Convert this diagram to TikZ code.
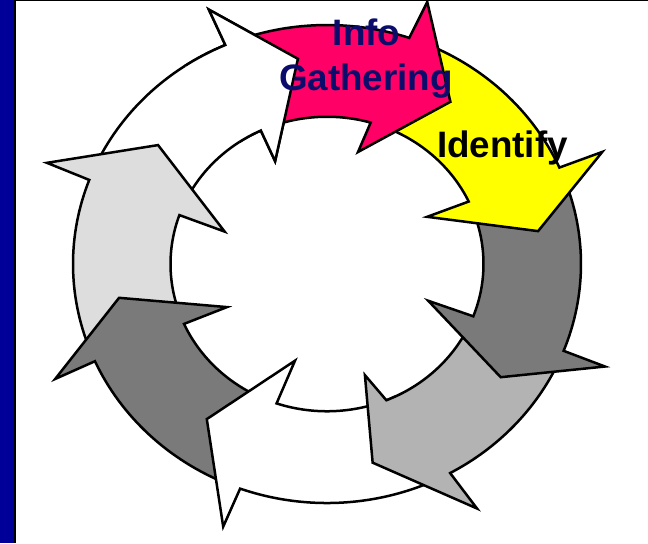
\documentclass[tikz,border=0pt]{standalone}
\usepackage{fontspec}
\setmainfont{Liberation Sans}
\definecolor{sidebar}{HTML}{000099}
\definecolor{pinkc}{HTML}{FF0066}
\definecolor{yellowc}{HTML}{FFFF00}
\definecolor{darkc}{HTML}{7A7A7A}
\definecolor{midc}{HTML}{B3B3B3}
\definecolor{lightc}{HTML}{DDDDDD}
\definecolor{navyc}{HTML}{0C0C6A}
\tikzset{
  cyclearrow/.style={draw=black, line width=1.25pt, line join=miter},
  label/.style={font=\bfseries\fontsize{18.4}{22}\selectfont, inner sep=0pt, anchor=base}
}
\begin{document}
\begin{tikzpicture}[x=0.5pt, y=0.5pt]
  \useasboundingbox (0,0) rectangle (648,-543);
  \fill[white] (0,0) rectangle (648,-543);
  % left bar and frame lines
  \fill[sidebar] (0,0) rectangle (14,-543);
  \fill[black] (14,0) rectangle (16,-543);
  \fill[black] (14,0) rectangle (648,-1.3);

  % ring of eight curved arrows, outer radius 254, inner radius 156.5
  \begin{scope}[shift={(327,-264)}, yscale=0.941]
    % white, upper left
    \path[cyclearrow, fill=white]
      (156.4:254) arc[start angle=156.4, end angle=113.6, radius=254]
      -- (113.6:295) -- (97.6:220) -- (115.4:121)
      -- (115:156.5) arc[start angle=115, end angle=156.4, radius=156.5] -- cycle;
    % light grey, left
    \path[cyclearrow, fill=lightc]
      (201:254) arc[start angle=201, end angle=159.4, radius=254]
      -- (159:300) -- (143.2:211) -- (161.4:108)
      -- (160.6:156.5) arc[start angle=160.6, end angle=201, radius=156.5] -- cycle;
    % dark grey, lower left
    \path[cyclearrow, fill=darkc]
      (247:254) arc[start angle=247, end angle=204, radius=254]
      -- (204.2:298) -- (189.8:211) -- (204.6:110)
      -- (204:156.5) arc[start angle=204, end angle=247, radius=156.5] -- cycle;
    % white, bottom
    \path[cyclearrow, fill=white]
      (296:254) arc[start angle=296, end angle=250, radius=254]
      -- (249.6:297.8) -- (233.9:204) -- (252.7:107.6)
      -- (251.2:156.5) arc[start angle=251.2, end angle=296, radius=156.5] -- cycle;
    % mid grey, lower right
    \path[cyclearrow, fill=midc]
      (335.7:254) arc[start angle=335.7, end angle=299, radius=254]
      -- (300:300) -- (282.2:216) -- (287.8:124)
      -- (292.3:156.5) arc[start angle=292.3, end angle=335.7, radius=156.5] -- cycle;
    % dark grey, right
    \path[cyclearrow, fill=darkc]
      (380.8:254) arc[start angle=380.8, end angle=338.7, radius=254]
      -- (338.6:298.6) -- (325.3:211.3) -- (338.9:108.5)
      -- (339.2:156.5) arc[start angle=339.2, end angle=380.8, radius=156.5] -- cycle;
    % yellow, upper right
    \path[cyclearrow, fill=yellowc]
      (68.1:254) arc[start angle=68.1, end angle=23.8, radius=254]
      -- (23.4:300) -- (9.4:214) -- (26.6:112)
      -- (25.1:156.5) arc[start angle=25.1, end angle=68.1, radius=156.5] -- cycle;
    % pink, top
    \path[cyclearrow, fill=pinkc]
      (110.6:254) arc[start angle=110.6, end angle=71.1, radius=254]
      -- (70.2:296) -- (54.4:212) -- (75.4:123)
      -- (73.8:156.5) arc[start angle=73.8, end angle=110.6, radius=156.5] -- cycle;
    % head of the upper left white arrow lies over the pink tail
    \begin{scope}
      \clip (0,0) -- (124:420) -- (86:420) -- cycle;
      \path[cyclearrow, fill=white]
        (156.4:254) arc[start angle=156.4, end angle=113.6, radius=254]
        -- (113.6:295) -- (97.6:220) -- (115.4:121)
        -- (115:156.5) arc[start angle=115, end angle=156.4, radius=156.5] -- cycle;
    \end{scope}
  \end{scope}

  % labels
  \node[label, text=navyc] (info) at (366.5,-45) {Info};
  \node[label, text=navyc] (gathering) at (366,-90) {Gathering};
  \node[label, text=black] (identify) at (502.5,-157) {Identify};
\end{tikzpicture}
\end{document}
